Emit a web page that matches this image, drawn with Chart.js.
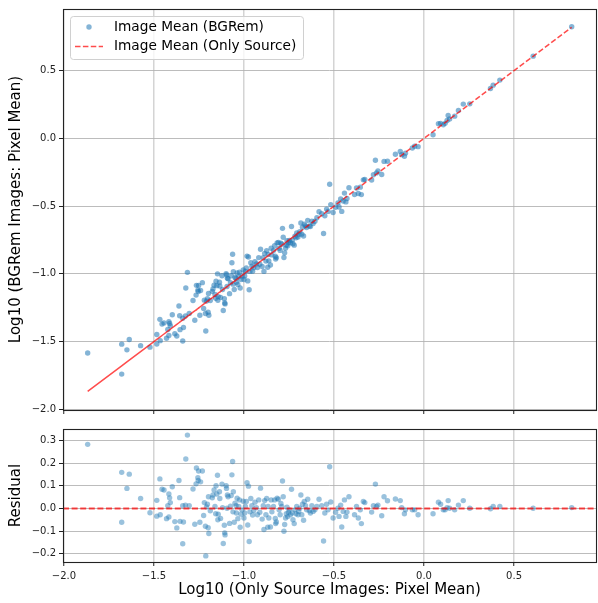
<!DOCTYPE html>
<html>
<head>
<meta charset="utf-8">
<script src="https://cdn.jsdelivr.net/npm/chart.js@4.4.0/dist/chart.umd.min.js"></script>
<style>
  html, body { margin: 0; padding: 0; background: #fff; overflow: hidden; }
  #wrap { position: relative; width: 598px; height: 603px; overflow: hidden; }
  #main { position: absolute; left: 0; top: 0; }
  #resid { position: absolute; left: 0; top: 420px; }
</style>
</head>
<body>
<div id="wrap">
  <canvas id="main" width="600" height="420"></canvas>
  <canvas id="resid" width="600" height="183"></canvas>
</div>
<script>
// log10 pixel means
var sourceMean = [
  -1.868, -1.679, -1.637, -1.650, -1.679, -1.574, -1.522, -1.484, -1.467, -1.484,
  -1.465, -1.455, -1.444, -1.430, -1.423, -1.417, -1.413, -1.409, -1.398, -1.417,
  -1.384, -1.373, -1.361, -1.357, -1.355, -1.340, -1.340, -1.336, -1.325, -1.323,
  -1.314, -1.304, -1.283, -1.273, -1.264, -1.266, -1.256, -1.254, -1.252, -1.245,
  -1.231, -1.241, -1.220, -1.224, -1.214, -1.212, -1.208, -1.203, -1.199, -1.197,
  -1.195, -1.187, -1.176, -1.172, -1.166, -1.161, -1.157, -1.155, -1.151, -1.147,
  -1.145, -1.143, -1.136, -1.134, -1.130, -1.122, -1.119, -1.115, -1.109, -1.107,
  -1.105, -1.099, -1.097, -1.094, -1.092, -1.088, -1.080, -1.075, -1.071, -1.067,
  -1.063, -1.061, -1.059, -1.054, -1.050, -1.044, -1.042, -1.038, -1.034, -1.029,
  -1.025, -1.021, -1.017, -1.011, -1.004, -1.000, -0.996, -0.992, -0.987, -0.983,
  -0.979, -0.975, -0.971, -0.967, -0.962, -0.956, -0.952, -0.946, -0.939, -0.931,
  -0.925, -0.918, -0.912, -0.908, -0.899, -0.893, -0.889, -0.885, -0.878, -0.874,
  -0.868, -0.866, -0.862, -0.853, -0.849, -0.845, -0.836, -0.830, -0.826, -0.824,
  -0.820, -0.816, -0.809, -0.805, -0.799, -0.795, -0.790, -0.786, -0.782, -0.778,
  -0.774, -0.769, -0.765, -0.761, -0.757, -0.753, -0.748, -0.742, -0.736, -0.732,
  -0.728, -0.721, -0.717, -0.711, -0.707, -0.700, -0.696, -0.690, -0.684, -0.679,
  -0.675, -0.669, -0.665, -0.658, -0.652, -0.646, -0.637, -0.631, -0.623, -0.616,
  -0.606, -0.595, -0.583, -0.568, -0.558, -0.551, -0.541, -0.533, -0.524, -0.518,
  -0.505, -0.491, -0.478, -0.472, -0.463, -0.457, -0.449, -0.442, -0.434, -0.428,
  -0.417, -0.386, -0.375, -0.365, -0.354, -0.348, -0.337, -0.329, -0.291, -0.281,
  -0.270, -0.264, -0.256, -0.235, -0.222, -0.203, -0.159, -0.132, -0.124, -0.109,
  -0.103, -0.065, -0.052, -0.033, 0.050, 0.080, 0.092, 0.107, 0.117, 0.128,
  0.134, 0.142, 0.170, 0.191, 0.218, 0.254, 0.369, 0.384, 0.421, 0.606,
  0.820
];
var bgremMean = [
  -1.584, -1.519, -1.485, -1.561, -1.740, -1.530, -1.541, -1.448, -1.336, -1.518,
  -1.493, -1.370, -1.362, -1.475, -1.411, -1.353, -1.366, -1.383, -1.302, -1.455,
  -1.442, -1.459, -1.237, -1.309, -1.412, -1.328, -1.496, -1.396, -1.310, -1.104,
  -0.989, -1.292, -1.197, -1.343, -1.085, -1.157, -1.120, -1.130, -1.086, -1.306,
  -1.065, -1.123, -1.194, -1.255, -1.293, -1.422, -1.201, -1.184, -1.284, -1.145,
  -1.306, -1.197, -1.129, -1.112, -1.084, -1.152, -1.180, -1.054, -1.087, -1.000,
  -1.195, -1.168, -1.062, -1.090, -1.174, -1.014, -1.115, -1.270, -1.183, -1.215,
  -1.222, -0.998, -1.008, -1.093, -1.032, -1.036, -1.146, -1.065, -1.014, -0.918,
  -0.855, -1.076, -0.985, -1.115, -1.027, -1.032, -1.062, -0.993, -1.079, -1.020,
  -0.987, -1.104, -1.042, -1.017, -0.972, -1.042, -1.016, -0.983, -0.956, -0.869,
  -1.052, -0.876, -1.117, -0.982, -0.918, -0.944, -0.981, -0.955, -0.911, -0.927,
  -0.953, -0.880, -0.929, -0.818, -0.946, -0.881, -0.982, -0.850, -0.906, -0.830,
  -0.951, -0.857, -0.904, -0.935, -0.811, -0.860, -0.827, -0.792, -0.870, -0.891,
  -0.880, -0.771, -0.768, -0.811, -0.827, -0.773, -0.781, -0.664, -0.730, -0.879,
  -0.845, -0.811, -0.788, -0.755, -0.793, -0.770, -0.754, -0.770, -0.651, -0.752,
  -0.778, -0.788, -0.723, -0.734, -0.698, -0.728, -0.709, -0.689, -0.624, -0.707,
  -0.656, -0.721, -0.634, -0.646, -0.658, -0.605, -0.647, -0.651, -0.611, -0.629,
  -0.612, -0.586, -0.542, -0.556, -0.702, -0.571, -0.522, -0.539, -0.339, -0.489,
  -0.547, -0.508, -0.477, -0.507, -0.448, -0.539, -0.462, -0.404, -0.469, -0.444,
  -0.365, -0.414, -0.366, -0.407, -0.360, -0.415, -0.306, -0.303, -0.307, -0.269,
  -0.162, -0.255, -0.241, -0.267, -0.170, -0.169, -0.117, -0.097, -0.120, -0.132,
  -0.109, -0.071, -0.058, -0.061, 0.027, 0.108, 0.111, 0.101, 0.111, 0.132,
  0.169, 0.143, 0.164, 0.206, 0.253, 0.255, 0.368, 0.393, 0.430, 0.607,
  0.824
];
var xTicks = [-2.0, -1.5, -1.0, -0.5, 0.0, 0.5];
var yTicks = [-2.0, -1.5, -1.0, -0.5, 0.0, 0.5];
var residTicks = [-0.2, -0.1, 0.0, 0.1, 0.2, 0.3];
var xMin = -2.005, xMax = 0.955;

Chart.defaults.font.family = "'DejaVu Sans', sans-serif";
Chart.defaults.color = "#222";

var blue = "rgba(31,119,180,0.55)";
var red = "rgba(255,0,0,0.7)";
var dash = [5.5, 2.4];

var scatterPts = sourceMean.map(function (x, i) { return { x: x, y: bgremMean[i] }; });
var residPts = sourceMean.map(function (x, i) { return { x: x, y: bgremMean[i] - x }; });
var linePts = sourceMean.slice().sort(function (a, b) { return a - b; })
  .map(function (x) { return { x: x, y: x }; });

function minus(v) {
  return v.toFixed(1).replace("-", "\u2212");
}

var frame = {
  id: "frame",
  afterDraw: function (chart) {
    var a = chart.chartArea, ctx = chart.ctx;
    ctx.save();
    ctx.strokeStyle = "#222";
    ctx.lineWidth = 1.1;
    ctx.strokeRect(a.left + 0.5, a.top + 0.5, a.right - a.left, a.bottom - a.top);
    ctx.restore();
  }
};

var legendBox = {
  id: "legendBox",
  afterDraw: function (chart) {
    if (chart.canvas.id !== "main") return;
    var ctx = chart.ctx;
    ctx.save();
    ctx.beginPath();
    ctx.roundRect(70.5, 16.5, 233, 43, 3);
    ctx.fillStyle = "rgba(255,255,255,0.8)";
    ctx.fill();
    ctx.strokeStyle = "#d0d0d0";
    ctx.lineWidth = 1;
    ctx.stroke();
    ctx.beginPath();
    ctx.arc(89, 27, 2.7, 0, Math.PI * 2);
    ctx.fillStyle = blue;
    ctx.fill();
    ctx.beginPath();
    ctx.setLineDash(dash);
    ctx.moveTo(75, 46.5);
    ctx.lineTo(103, 46.5);
    ctx.strokeStyle = red;
    ctx.lineWidth = 1.5;
    ctx.stroke();
    ctx.setLineDash([]);
    ctx.fillStyle = "#000";
    ctx.font = "13.7px 'DejaVu Sans'";
    ctx.textBaseline = "middle";
    ctx.fillText("Image Mean (BGRem)", 114, 27);
    ctx.fillText("Image Mean (Only Source)", 114, 46);
    ctx.restore();
  }
};

function setTicks(list) {
  return function (scale) {
    scale.ticks = list.map(function (v) { return { value: v }; });
  };
}

var gridX = { color: "rgba(176,176,176,0.55)", lineWidth: 1.5, tickColor: "#222", tickLength: 4, tickWidth: 1 };
var gridY = { color: "rgba(176,176,176,0.85)", lineWidth: 1, tickColor: "#222", tickLength: 4, tickWidth: 1 };

new Chart(document.getElementById("main"), {
  type: "scatter",
  data: {
    datasets: [
      {
        label: "Image Mean (BGRem)",
        data: scatterPts,
        backgroundColor: blue,
        borderWidth: 0,
        pointRadius: 2.7,
        order: 1
      },
      {
        label: "Image Mean (Only Source)",
        data: linePts,
        showLine: true,
        borderColor: red,
        borderWidth: 1.5,
        borderDash: [],
        pointRadius: 0,
        segment: {
          borderDash: function (c) { return c.p0.parsed.x > -0.7 ? dash : undefined; }
        },
        order: 0
      }
    ]
  },
  options: {
    responsive: false,
    animation: false,
    layout: { padding: { top: 8, left: 0, right: 0, bottom: 0 } },
    plugins: { legend: { display: false }, tooltip: { enabled: false } },
    scales: {
      x: {
        type: "linear", min: xMin, max: xMax,
        afterBuildTicks: setTicks(xTicks),
        afterFit: function (s) { s.height = 10; },
        ticks: { display: false },
        grid: gridX,
        border: { display: false }
      },
      y: {
        type: "linear", min: xMin, max: xMax,
        afterBuildTicks: setTicks(yTicks),
        afterFit: function (s) { s.width = 63; },
        ticks: { font: { size: 10 }, color: "#222", padding: 3, callback: minus },
        grid: gridY,
        border: { display: false },
        title: { display: true, text: "Log10 (BGRem Images: Pixel Mean)", font: { size: 15 }, color: "#000", padding: { top: 7.5, bottom: 0 } }
      }
    }
  },
  plugins: [frame, legendBox]
});

new Chart(document.getElementById("resid"), {
  type: "scatter",
  data: {
    datasets: [
      {
        label: "Residual",
        data: residPts,
        backgroundColor: "rgba(31,119,180,0.45)",
        borderWidth: 0,
        pointRadius: 2.7,
        order: 1
      },
      {
        label: "Zero",
        data: [{ x: xMin, y: 0 }, { x: xMax, y: 0 }],
        showLine: true,
        borderColor: red,
        borderWidth: 1.8,
        borderDash: [6, 2.6],
        pointRadius: 0,
        order: 0
      }
    ]
  },
  options: {
    responsive: false,
    animation: false,
    layout: { padding: { top: 8, left: 0, right: 0, bottom: 0 } },
    plugins: { legend: { display: false }, tooltip: { enabled: false } },
    scales: {
      x: {
        type: "linear", min: xMin, max: xMax,
        afterBuildTicks: setTicks(xTicks),
        afterFit: function (s) { s.height = 41; },
        ticks: { font: { size: 10 }, color: "#222", padding: 4, maxRotation: 0, callback: minus },
        grid: gridX,
        border: { display: false },
        title: { display: true, text: "Log10 (Only Source Images: Pixel Mean)", font: { size: 15 }, color: "#000", padding: { top: 0, bottom: 4 } }
      },
      y: {
        type: "linear", min: -0.237, max: 0.352,
        afterBuildTicks: setTicks(residTicks),
        afterFit: function (s) { s.width = 63; },
        ticks: { font: { size: 10 }, color: "#222", padding: 3, callback: minus },
        grid: gridY,
        border: { display: false },
        title: { display: true, text: "Residual", font: { size: 15 }, color: "#000", padding: { top: 7.5, bottom: 0 } }
      }
    }
  },
  plugins: [frame]
});
</script>
</body>
</html>
